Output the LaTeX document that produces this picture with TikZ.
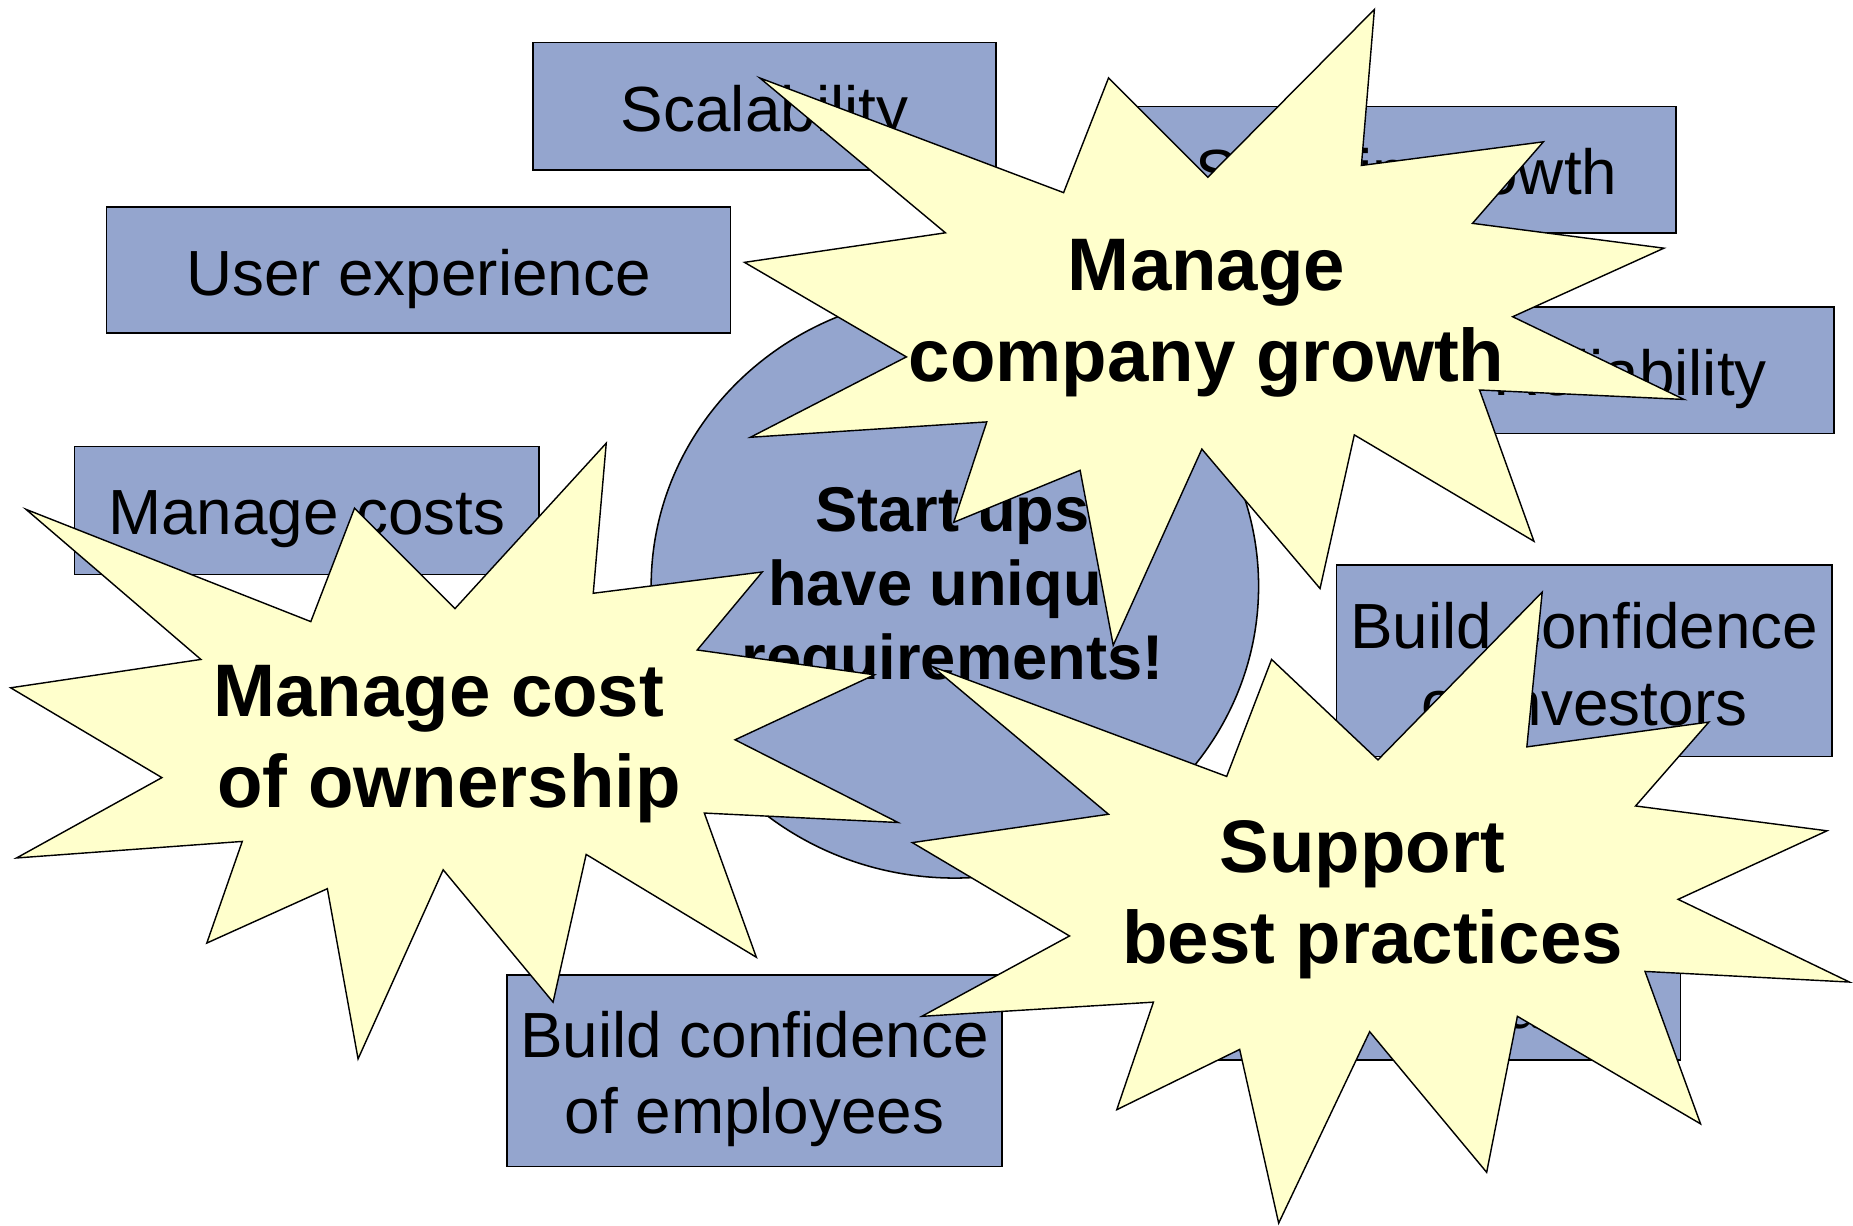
\documentclass[tikz,border=0pt]{standalone}
\usepackage{fontspec}
\setmainfont{Liberation Sans}
\usetikzlibrary{shapes.geometric}
\definecolor{boxblue}{RGB}{148,165,206}
\definecolor{staryellow}{RGB}{255,255,204}
\begin{document}
\begin{tikzpicture}[x=1pt,y=-1pt,
  box/.style={draw=black, fill=boxblue, line width=1.3pt, inner sep=0pt},
  boxtext/.style={align=center, inner sep=0pt, font=\fontsize{54}{65}\selectfont},
  core/.style={ellipse, draw=black, fill=boxblue, line width=1.3pt, inner sep=0pt},
  coretext/.style={align=center, inner sep=0pt, font=\fontsize{53.5}{62.5}\selectfont\bfseries},
  burst/.style={draw=black, fill=staryellow, line width=1.2pt, line join=miter},
  bursttext/.style={align=center, inner sep=0pt, font=\fontsize{63}{77}\selectfont\bfseries},
]
\useasboundingbox (0,0) rectangle (1568,1037);

% background boxes
\node[box, minimum width=392pt, minimum height=108pt] (scal) at (647,90) {};
\node[boxtext] (scalT) at (647,97) {Scalability};
\node[box, minimum width=528pt, minimum height=107pt] (ux) at (354,228.5) {};
\node[boxtext] (uxT) at (354,236) {User experience};
\node[box, minimum width=456pt, minimum height=107pt] (grow) at (1190,143.5) {};
\node[boxtext] (growT) at (1190,151) {Sustain growth};
\node[box, minimum width=345pt, minimum height=107pt] (rel) at (1379.5,313.5) {};
\node[boxtext] (relT) at (1379.5,321) {Reliability};
\node[box, minimum width=393pt, minimum height=108pt] (cost) at (259.5,432) {};
\node[boxtext] (costT) at (259.5,439.5) {Manage costs};
\node[box, minimum width=419pt, minimum height=162pt] (inv) at (1340.5,559) {};
\node[boxtext] (invT) at (1340.5,562) {Build confidence\\of investors};
\node[box, minimum width=419pt, minimum height=162pt] (emp) at (638.5,906) {};
\node[boxtext] (empT) at (638.5,913) {Build confidence\\of employees};
\node[box, minimum width=412pt, minimum height=107pt] (ttm) at (1216,843.5) {};
\node[boxtext] (ttmT) at (1216,851) {Time to market};

% central ellipse
\node[core, minimum width=514pt, minimum height=494pt] (hub) at (808,496) {};
\node[coretext] (hubT) at (806,499) {Start ups\\have unique\\requirements!};

% star A: Manage company growth
\filldraw[burst] (643,66) -- (900,163) -- (938,66) -- (1022,150) -- (1163,8) -- (1152,140)
  -- (1306,120) -- (1246,189) -- (1408,210) -- (1280,268) -- (1425,338) -- (1252,330)
  -- (1298,458) -- (1146,368) -- (1117,498) -- (1017,380) -- (942,546) -- (914,398)
  -- (807,442) -- (835,357) -- (635,370) -- (767,302) -- (630,222) -- (800,197) -- cycle;
\node[bursttext] (sA) at (1021,269) {Manage\\company growth};

% star B: Manage cost of ownership
\filldraw[burst] (22,431) -- (263,526) -- (300,430) -- (385,515) -- (513,375) -- (502,502)
  -- (645,484) -- (590,550) -- (740,571) -- (622,626) -- (760,696) -- (596,688)
  -- (640,810) -- (496,723) -- (468,848) -- (375,736) -- (303,896) -- (277,752)
  -- (175,798) -- (205,712) -- (14,726) -- (137,658) -- (9,582) -- (170,558) -- cycle;
\node[bursttext] (sB) at (380,630) {Manage cost\rule{17.5pt}{0pt}\\of ownership};

% star C: Support best practices
\filldraw[burst] (789,564) -- (1038,657) -- (1076,558) -- (1166,643) -- (1305,501) -- (1292,632)
  -- (1446,611) -- (1384,682) -- (1546,703) -- (1420,761) -- (1565,831) -- (1392,822)
  -- (1439,951) -- (1284,860) -- (1258,992) -- (1159,873) -- (1082,1035) -- (1049,888)
  -- (945,939) -- (976,848) -- (780,860) -- (905,792) -- (772,713) -- (938,689) -- cycle;
\node[bursttext] (sC) at (1161.5,761) {Support\rule{17.5pt}{0pt}\\best practices};
\end{tikzpicture}
\end{document}
